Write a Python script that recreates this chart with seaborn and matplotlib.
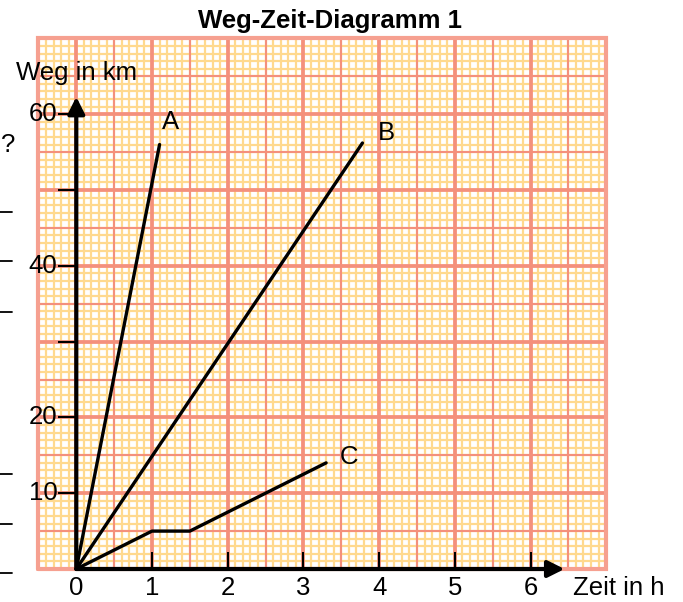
import numpy as np
import pandas as pd
import matplotlib
matplotlib.use("Agg")
import matplotlib.pyplot as plt
from matplotlib.lines import Line2D
import seaborn as sns

# --- data -------------------------------------------------------------
zeit_a = [0.0, 1.1]
weg_a = [0.0, 56.0]
zeit_b = [0.0, 3.78]
weg_b = [0.0, 56.2]
zeit_c = [0.0, 1.0, 1.5, 3.3]
weg_c = [0.0, 5.0, 5.0, 14.0]

x_tick_labels = ["0", "1", "2", "3", "4", "5", "6"]
y_tick_marks = [10, 20, 30, 40, 50, 60]
y_tick_labels = {10: "10", 20: "20", 40: "40", 60: "60"}

title = "Weg-Zeit-Diagramm 1"
x_title = "Zeit in h"
y_title = "Weg in km"

# --- style ------------------------------------------------------------
sns.set_style("white")
plt.rcParams["font.family"] = ["Liberation Sans", "DejaVu Sans"]
plt.rcParams["text.color"] = "black"

W, H, DPI = 683, 602, 100
fig = plt.figure(figsize=(W / DPI, H / DPI), dpi=DPI)
ax = fig.add_axes([0, 0, 1, 1])

# map pixels <-> data: origin at (76.3, 569) px, 75.7 px per hour, 7.58 px per km
px_x0, px_y0, sx, sy = 76.3, 569.0, 75.7, 7.58
ax.set_xlim(-px_x0 / sx, (W - px_x0) / sx)
ax.set_ylim(-(H - px_y0) / sy, px_y0 / sy)
ax.axis("off")

# --- graph paper ------------------------------------------------------
gx0, gx1, gy0, gy1 = -0.5, 7.0, 0.0, 70.0
yellow = "#FFD98E"
red = "#F4907C"
ax.fill_between([gx0, gx1], gy0, gy1, color="white", zorder=0)

minor_x = np.round(np.arange(gx0, gx1 + 1e-9, 0.1), 3)
minor_y = np.round(np.arange(gy0, gy1 + 1e-9, 1.0), 3)
ax.vlines(minor_x, gy0, gy1, color=yellow, lw=1.6, zorder=1)
ax.hlines(minor_y, gx0, gx1, color=yellow, lw=1.6, zorder=1)

half_x = np.arange(gx0, gx1 + 1e-9, 0.5)
half_y = np.arange(gy0, gy1 + 1e-9, 5.0)
ax.vlines(half_x, gy0, gy1, color=red, lw=1.5, zorder=2)
ax.hlines(half_y, gx0, gx1, color=red, lw=1.5, zorder=2)

full_x = np.arange(0, gx1 + 1e-9, 1.0)
full_y = np.arange(gy0, gy1 + 1e-9, 10.0)
ax.vlines(full_x, gy0, gy1, color=red, lw=2.7, zorder=2)
ax.hlines(full_y, gx0, gx1, color=red, lw=2.7, zorder=2)

ax.plot([gx0, gx1, gx1, gx0, gx0], [gy0, gy0, gy1, gy1, gy0],
        color="#F6A090", lw=3.0, zorder=2, solid_joinstyle="miter")

# --- axes with arrows -------------------------------------------------
arrow = dict(arrowstyle="-|>,head_length=1.0,head_width=0.5", lw=3.0,
             color="black", shrinkA=0, shrinkB=0, mutation_scale=10)
ax.annotate("", xy=(0, 62.3), xytext=(0, 0), arrowprops=arrow, zorder=5)
ax.annotate("", xy=(6.45, 0), xytext=(0, 0), arrowprops=arrow, zorder=5)

ax.hlines(y_tick_marks, -0.24, 0, color="black", lw=1.5, zorder=5)
ax.vlines(range(1, len(x_tick_labels)), 0, 2.25, color="black", lw=1.5, zorder=5)

fs = 18.5
for v, lab in y_tick_labels.items():
    ax.text(-0.25, v, lab, ha="right", va="center", fontsize=fs, zorder=6)
for i, lab in enumerate(x_tick_labels):
    ax.text(i, -2.5, lab, ha="center", va="center", fontsize=fs, zorder=6)

ax.text(0.0, 65.4, y_title, ha="center", va="center", fontsize=fs, zorder=6)
ax.text(6.56, -2.5, x_title, ha="left", va="center", fontsize=fs, zorder=6)

# --- journeys A, B, C -------------------------------------------------
df = pd.concat([
    pd.DataFrame({"Zeit": zeit_a, "Weg": weg_a, "Fahrt": "A"}),
    pd.DataFrame({"Zeit": zeit_b, "Weg": weg_b, "Fahrt": "B"}),
    pd.DataFrame({"Zeit": zeit_c, "Weg": weg_c, "Fahrt": "C"}),
], ignore_index=True)
sns.lineplot(data=df, x="Zeit", y="Weg", hue="Fahrt", units="Fahrt",
             estimator=None, sort=False, palette=["black"] * 3, lw=2.4,
             legend=False, ax=ax, zorder=4)
ax.set_xlabel("")
ax.set_ylabel("")

ax.text(1.24, 59.0, "A", ha="center", va="center", fontsize=fs, zorder=6)
ax.text(4.10, 57.5, "B", ha="center", va="center", fontsize=fs, zorder=6)
ax.text(3.60, 14.8, "C", ha="center", va="center", fontsize=fs, zorder=6)

# --- heading ----------------------------------------------------------
fig.text(330 / W, 1 - 21 / H, title, ha="center", va="center",
         fontsize=18.5, fontweight="bold")

# --- margin marks of the surrounding page -----------------------------
for py in [212, 261, 312, 474, 524, 573]:
    fig.add_artist(Line2D([0, 12 / W], [1 - py / H] * 2, color="black",
                          lw=1.3, transform=fig.transFigure))
fig.text(1 / W, 1 - 145 / H, "?", ha="left", va="center", fontsize=fs)

fig.savefig("out.png", dpi=DPI)
